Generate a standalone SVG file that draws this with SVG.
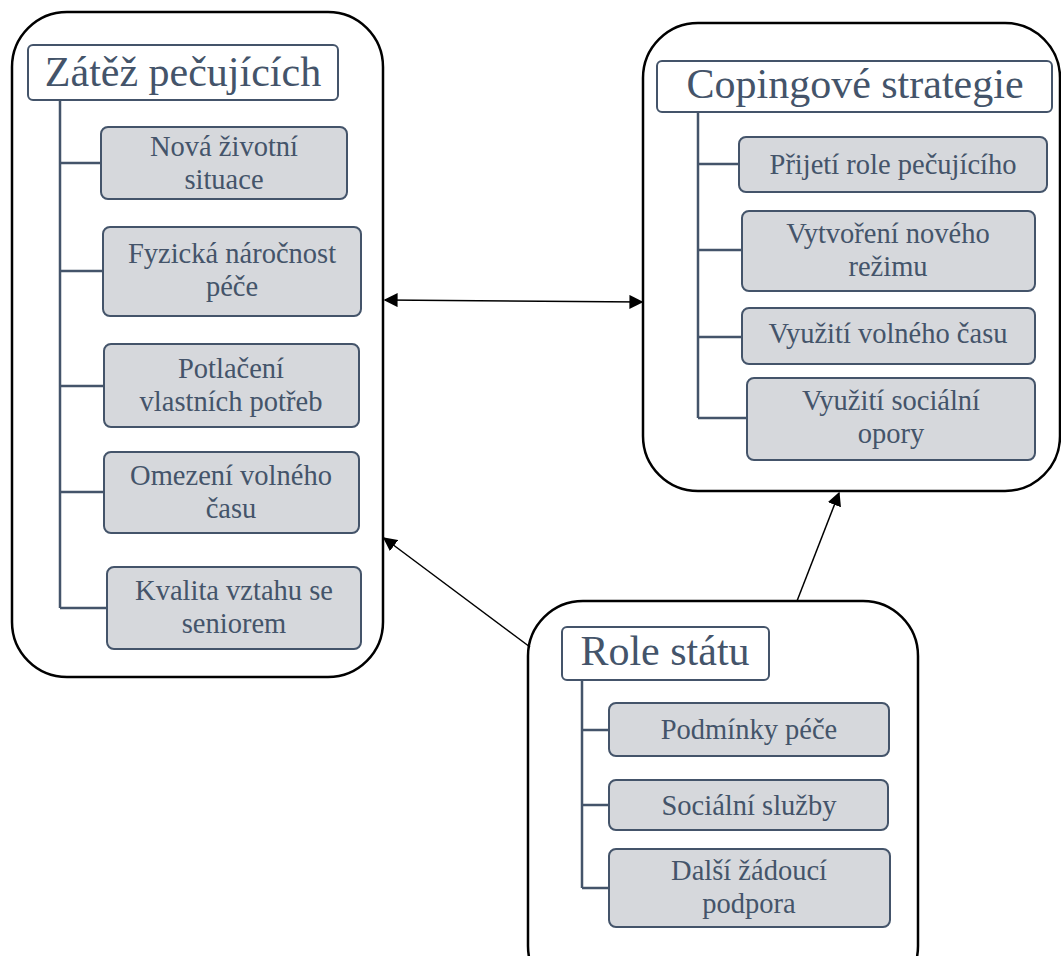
<svg xmlns="http://www.w3.org/2000/svg" width="1061" height="956" viewBox="0 0 1061 956">
<style>
.cont{fill:#fff;stroke:#000;stroke-width:2.5}
.title{fill:#fff;stroke:#44546a;stroke-width:2}
.item{fill:#d6d8dc;stroke:#44546a;stroke-width:2}
.tree{fill:none;stroke:#44546a;stroke-width:2.5}
text{font-family:'Liberation Serif','Times New Roman',serif;fill:#44546a;text-anchor:middle}
.tt{font-size:42px}
.it{font-size:28.5px}
.conn{fill:none;stroke:#000;stroke-width:1.5}
</style>
<defs>
<marker id="ah2" viewBox="0 0 10 10" refX="9" refY="5" markerWidth="14" markerHeight="14" markerUnits="userSpaceOnUse" orient="auto-start-reverse">
<path d="M0,0 L10,5 L0,10 z" fill="#000"/>
</marker>
</defs>

<g id="zatez">
<rect class="cont" x="12" y="12" width="371" height="665" rx="55"/>
<path class="tree" d="M60,100 V608 M60,163 H101 M60,271 H103 M60,386 H104 M60,492 H104 M60,608 H107"/>
<rect class="title" x="28" y="45" width="310" height="55" rx="5"/>
<text class="tt" x="183" y="86">Zátěž pečujících</text>
<rect class="item" x="101" y="127" width="246" height="72" rx="7"/>
<text class="it" x="224" y="156">Nová životní</text>
<text class="it" x="224" y="189">situace</text>
<rect class="item" x="103" y="227" width="258" height="89" rx="7"/>
<text class="it" x="232" y="263">Fyzická náročnost</text>
<text class="it" x="232" y="296">péče</text>
<rect class="item" x="104" y="344" width="255" height="83" rx="7"/>
<text class="it" x="231" y="378">Potlačení</text>
<text class="it" x="231" y="411">vlastních potřeb</text>
<rect class="item" x="104" y="452" width="255" height="81" rx="7"/>
<text class="it" x="231" y="485">Omezení volného</text>
<text class="it" x="231" y="518">času</text>
<rect class="item" x="107" y="567" width="254" height="82" rx="7"/>
<text class="it" x="234" y="600">Kvalita vztahu se</text>
<text class="it" x="234" y="633">seniorem</text>
</g>

<g id="coping">
<rect class="cont" x="643" y="23" width="417" height="468" rx="55"/>
<path class="tree" d="M698,112 V418 M698,164 H739 M698,250 H742 M698,337 H742 M698,418 H747"/>
<rect class="title" x="657" y="61" width="395" height="51" rx="5"/>
<text class="tt" x="855" y="98">Copingové strategie</text>
<rect class="item" x="739" y="137" width="308" height="55" rx="7"/>
<text class="it" x="893" y="174">Přijetí role pečujícího</text>
<rect class="item" x="742" y="211" width="293" height="80" rx="7"/>
<text class="it" x="888" y="243">Vytvoření nového</text>
<text class="it" x="888" y="276">režimu</text>
<rect class="item" x="742" y="308" width="293" height="56" rx="7"/>
<text class="it" x="888" y="343">Využití volného času</text>
<rect class="item" x="747" y="378" width="288" height="82" rx="7"/>
<text class="it" x="891" y="410">Využití sociální</text>
<text class="it" x="891" y="443">opory</text>
</g>

<g id="role">
<rect class="cont" x="528" y="601" width="390" height="400" rx="55"/>
<path class="tree" d="M582,680 V888 M582,730 H609 M582,805 H609 M582,888 H609"/>
<rect class="title" x="562" y="627" width="207" height="53" rx="5"/>
<text class="tt" x="665" y="665">Role státu</text>
<rect class="item" x="609" y="703" width="280" height="53" rx="7"/>
<text class="it" x="749" y="739">Podmínky péče</text>
<rect class="item" x="609" y="780" width="279" height="50" rx="7"/>
<text class="it" x="749" y="815">Sociální služby</text>
<rect class="item" x="609" y="849" width="281" height="78" rx="7"/>
<text class="it" x="749" y="880">Další žádoucí</text>
<text class="it" x="749" y="913">podpora</text>
</g>

<g id="connectors">
<line class="conn" x1="385" y1="300" x2="642" y2="302" marker-start="url(#ah2)" marker-end="url(#ah2)"/>
<line class="conn" x1="530" y1="647" x2="384" y2="538" marker-end="url(#ah2)"/>
<line class="conn" x1="797" y1="601" x2="839" y2="493" marker-end="url(#ah2)"/>
</g>
</svg>
